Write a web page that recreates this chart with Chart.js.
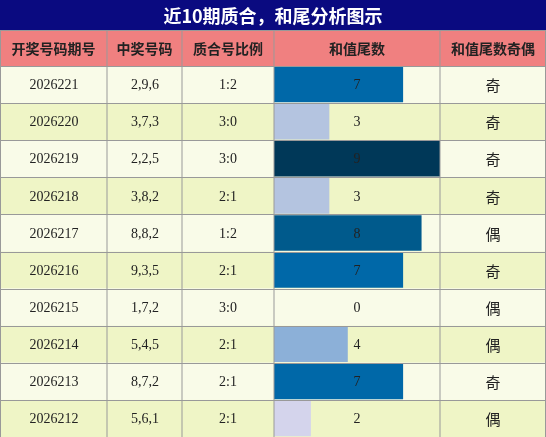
<!DOCTYPE html>
<html><head><meta charset="utf-8">
<script src="https://cdn.jsdelivr.net/npm/chart.js@4"></script>
<style>body{margin:0;background:#fff}canvas{display:block}</style>
</head><body>
<canvas id="c" width="546" height="437"></canvas>
<script>
const periods = ['2026221','2026220','2026219','2026218','2026217','2026216','2026215','2026214','2026213','2026212'];
const numbers = ['2,9,6','3,7,3','2,2,5','3,8,2','8,8,2','9,3,5','1,7,2','5,4,5','8,7,2','5,6,1'];
const ratios = ['1:2','3:0','3:0','2:1','1:2','2:1','3:0','2:1','2:1','2:1'];
const tails = [7,3,9,3,8,7,0,4,7,2];
const parity = ['奇','奇','奇','奇','偶','奇','偶','偶','奇','偶'];
const headers = ['开奖号码期号','中奖号码','质合号比例','和值尾数','和值尾数奇偶'];
const title = '近10期质合，和尾分析图示';

const colX = [0,107,182,274,440,546];
const top0 = 66, headTop = 30;
const tailColors = {0:'#ffffff',2:'#d4d4ec',3:'#b4c4e0',4:'#8cb0d8',7:'#0068a8',8:'#005a8c',9:'#003858'};

const tablePlugin = {
  id: 'table',
  beforeDatasetsDraw(chart) {
    const ctx = chart.ctx;
    const rh = (437 - top0) / periods.length;
    ctx.save();
    ctx.fillStyle = '#0a0a80';
    ctx.fillRect(0, 0, 546, headTop);
    ctx.fillStyle = '#f08080';
    ctx.fillRect(0, headTop, 546, top0 - headTop);
    periods.forEach((p, i) => {
      ctx.fillStyle = i % 2 ? '#eff5c6' : '#f9fbe8';
      ctx.fillRect(0, top0 + i * rh, 546, rh);
    });
    ctx.restore();
  },
  afterDraw(chart) {
    const ctx = chart.ctx;
    const rh = (437 - top0) / periods.length;
    ctx.save();
    ctx.textAlign = 'center';
    ctx.textBaseline = 'middle';
    ctx.fillStyle = '#fff';
    ctx.font = 'bold 18px "Noto Sans CJK SC"';
    ctx.fillText(title, 273, 16);
    ctx.fillStyle = '#222';
    ctx.font = 'bold 14px "Noto Sans CJK SC"';
    headers.forEach((h, j) => ctx.fillText(h, (colX[j] + colX[j + 1]) / 2, 49));
    periods.forEach((p, i) => {
      const y = top0 + i * rh + rh / 2 + 1;
      ctx.font = '14px "Liberation Serif"';
      ctx.fillStyle = '#222';
      ctx.fillText(p, 54, y);
      ctx.fillText(numbers[i], 145, y);
      ctx.fillText(ratios[i], 228, y);
      ctx.fillText(String(tails[i]), 357, y);
      ctx.font = '15px "Noto Sans CJK SC"';
      ctx.fillText(parity[i], 493, y);
    });
    ctx.strokeStyle = '#999';
    ctx.lineWidth = 1;
    ctx.beginPath();
    for (let i = 0; i <= periods.length; i++) {
      const y = Math.round(top0 + i * rh) + 0.5;
      ctx.moveTo(0, y); ctx.lineTo(546, y);
    }
    ctx.moveTo(0, headTop + 0.5); ctx.lineTo(546, headTop + 0.5);
    colX.forEach(x => {
      const xx = Math.min(Math.max(x, 0.5), 545.5);
      ctx.moveTo(xx, headTop); ctx.lineTo(xx, 437);
    });
    ctx.stroke();
    ctx.restore();
  }
};

new Chart(document.getElementById('c'), {
  type: 'bar',
  data: {
    labels: periods,
    datasets: [{
      data: tails,
      backgroundColor: tails.map(v => tailColors[v] || '#0068a8'),
      barPercentage: 0.96,
      categoryPercentage: 1
    }]
  },
  options: {
    indexAxis: 'y',
    responsive: false,
    animation: false,
    layout: { padding: { left: colX[3], right: 546 - colX[4], top: top0, bottom: 0 } },
    plugins: { legend: { display: false }, tooltip: { enabled: false } },
    scales: {
      x: { display: false, min: 0, max: 9 },
      y: { display: false }
    }
  },
  plugins: [tablePlugin]
});
</script>
</body></html>
